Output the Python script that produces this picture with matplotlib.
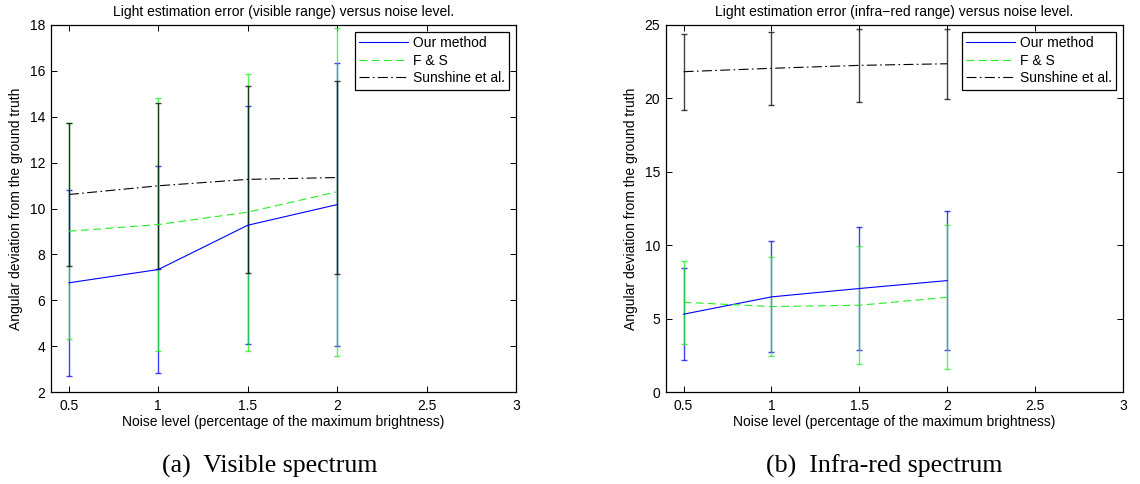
import matplotlib
matplotlib.use("Agg")
import matplotlib.pyplot as plt
from matplotlib.lines import Line2D

noise = [0.5, 1.0, 1.5, 2.0]

vis_ours = [6.76, 7.34, 9.27, 10.17]
vis_ours_err = [4.05, 4.52, 5.18, 6.17]
vis_fs = [9.01, 9.30, 9.84, 10.73]
vis_fs_err = [4.70, 5.53, 6.04, 7.15]
vis_sun = [10.61, 10.99, 11.27, 11.35]
vis_sun_err = [3.13, 3.63, 4.07, 4.20]

ir_ours = [5.30, 6.48, 7.05, 7.59]
ir_ours_err = [3.15, 3.78, 4.22, 4.74]
ir_fs = [6.11, 5.82, 5.91, 6.45]
ir_fs_err = [2.81, 3.36, 4.03, 4.90]
ir_sun = [21.82, 22.05, 22.25, 22.36]
ir_sun_err = [2.60, 2.50, 2.50, 2.40]

series_names = ["Our method", "F & S", "Sunshine et al."]
xticks = [0.5, 1, 1.5, 2, 2.5, 3]
xtick_labels = ["0.5", "1", "1.5", "2", "2.5", "3"]

SANS = "Liberation Sans"
SERIF = "Liberation Serif"

fig = plt.figure(figsize=(11.4, 4.84), dpi=100)
W, H = 1140, 484

def ax_rect(l, r, t, b):
    return [l / W, 1 - b / H, (r - l) / W, (b - t) / H]

panels = [
    dict(rect=ax_rect(51, 516, 25, 392), data=[(vis_ours, vis_ours_err), (vis_fs, vis_fs_err), (vis_sun, vis_sun_err)],
         ylim=(2, 18), yticks=[2, 4, 6, 8, 10, 12, 14, 16, 18],
         title="Light estimation error (visible range) versus noise level.",
         caption="(a)  Visible spectrum", cap_x=270),
    dict(rect=ax_rect(666, 1123, 25, 392), data=[(ir_ours, ir_ours_err), (ir_fs, ir_fs_err), (ir_sun, ir_sun_err)],
         ylim=(0, 25), yticks=[0, 5, 10, 15, 20, 25],
         title="Light estimation error (infra\u2212red range) versus noise level.",
         caption="(b)  Infra-red spectrum", cap_x=884),
]

colors = ["#0000ff", "#22ee22", "#000000"]
styles = ["-", (0, (7, 4)), (0, (9, 3, 1.5, 3))]
ecolors = ["#0000ff", "#22ee22", "#000000"]

for p in panels:
    ax = fig.add_axes(p["rect"])
    for (vals, err), c, ls, ec, name in zip(p["data"], colors, styles, ecolors, series_names):
        cont = ax.errorbar(noise, vals, yerr=err, color=c, ls=ls, lw=0.8, ecolor=ec,
                           elinewidth=1.0, capsize=1.9, capthick=1.0, label=name)
        for art in cont[1]:
            art.set_alpha(0.75)
        for art in cont[2]:
            art.set_alpha(0.75)
    ax.set_xlim(0.4, 3)
    ax.set_ylim(*p["ylim"])
    ax.set_xticks(xticks)
    ax.set_xticklabels(xtick_labels, fontfamily=SANS, fontsize=10)
    ax.set_yticks(p["yticks"])
    ax.set_yticklabels([str(v) for v in p["yticks"]], fontfamily=SANS, fontsize=10)
    ax.tick_params(direction="in", top=True, right=True, length=4, width=0.7)
    ax.tick_params(axis="x", pad=5)
    ax.tick_params(axis="y", pad=4.3)
    for s in ax.spines.values():
        s.set_linewidth(0.9)
    ax.set_title(p["title"], fontfamily=SANS, fontsize=10, pad=6.5)
    ax.set_xlabel("Noise level (percentage of the maximum brightness)", fontfamily=SANS, fontsize=10, labelpad=1.5)
    ax.set_ylabel("Angular deviation from the ground truth", fontfamily=SANS, fontsize=10, labelpad=4.5)
    hs = [Line2D([], [], color=c, ls=ls, lw=0.8) for c, ls in zip(colors, styles)]
    leg = ax.legend(hs, series_names, loc="upper right", prop=dict(family=SANS, size=10),
                    frameon=True, fancybox=False, edgecolor="black", framealpha=1,
                    borderpad=0.3, labelspacing=0.26, handlelength=3.5, handletextpad=0.35,
                    borderaxespad=0.5)
    leg.get_frame().set_linewidth(0.9)
    fig.text(p["cap_x"] / W, 1 - 466 / H, p["caption"], ha="center", va="center",
             fontfamily=SERIF, fontsize=18.6)

fig.savefig("out.png", dpi=100)
